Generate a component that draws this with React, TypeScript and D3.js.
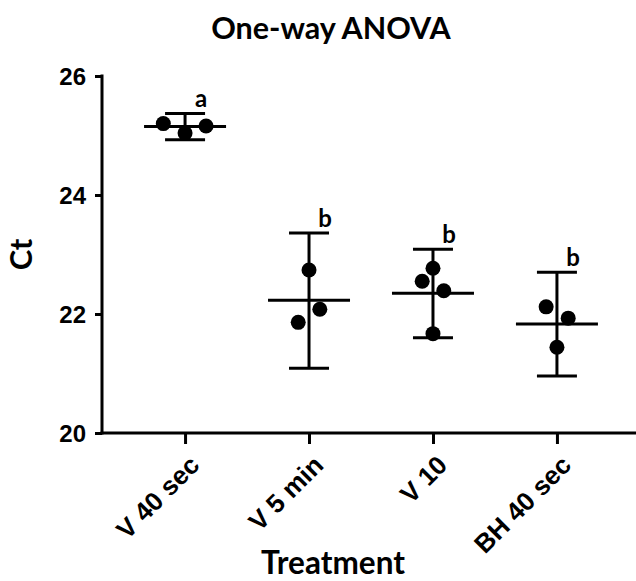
import * as d3 from "d3";
import { useEffect, useRef } from "react";

// Values (Ct per replicate, mean and 95% CI limits)
const treatments = ["V 40 sec", "V 5 min", "V 10", "BH 40 sec"];
const replicates = [
  [25.2, 25.04, 25.16],
  [22.74, 22.08, 21.86],
  [22.77, 22.55, 22.39, 21.67],
  [22.12, 21.93, 21.44],
];
const means = [25.15, 22.23, 22.35, 21.83];
const ciLow = [24.93, 21.09, 21.6, 20.96];
const ciHigh = [25.37, 23.36, 23.09, 22.7];
const letters = ["a", "b", "b", "b"];
const yTicks = [20, 22, 24, 26];
// horizontal scatter offsets (in dot diameters) so the points don't overlap
const jitter = [
  [-1.45, 0, 1.4],
  [0, 0.72, -0.72],
  [0, -0.72, 0.72, 0],
  [-0.72, 0.75, 0],
];

const W = 636;
const H = 581;

export default function App() {
  const ref = useRef<SVGSVGElement>(null);

  useEffect(() => {
    if (!ref.current) return;
    const svg = d3.select(ref.current);
    svg.selectAll("*").remove();

    const left = 102;
    const bottom = 433;
    const top = 76;

    const x = d3.scalePoint<string>().domain(treatments).range([left, 640]).padding(0.67);
    const y = d3.scaleLinear().domain([20, 26]).range([bottom, top]);

    const sans = "Lato, 'Open Sans', sans-serif";
    const arial = "'Liberation Sans', Arial, sans-serif";
    const r = 7.5;

    // title
    svg
      .append("text")
      .attr("x", 331)
      .attr("y", 39)
      .attr("text-anchor", "middle")
      .attr("font-family", sans)
      .attr("font-weight", 700)
      .attr("font-size", 30.5)
      .text("One-way ANOVA");

    // y axis
    const ya = svg
      .append("g")
      .attr("transform", `translate(${left},0)`)
      .call(d3.axisLeft(y).tickValues(yTicks).tickSize(7).tickPadding(9).tickFormat(d3.format("d")));
    ya.select("path.domain").remove();
    ya.selectAll("line").attr("stroke", "#000").attr("stroke-width", 3);
    ya.selectAll("text")
      .attr("font-family", arial)
      .attr("font-weight", 700)
      .attr("font-size", 24)
      .attr("fill", "#000")
      .attr("dy", "0.36em");
    svg
      .append("line")
      .attr("x1", left)
      .attr("x2", left)
      .attr("y1", top - 1.5)
      .attr("y2", bottom + 1.5)
      .attr("stroke", "#000")
      .attr("stroke-width", 3);

    // x axis
    const xa = svg
      .append("g")
      .attr("transform", `translate(0,${bottom})`)
      .call(d3.axisBottom(x).tickSize(11).tickFormat(() => ""));
    xa.select("path.domain").remove();
    xa.selectAll("line").attr("stroke", "#000").attr("stroke-width", 3);
    svg
      .append("line")
      .attr("x1", left - 1.5)
      .attr("x2", W)
      .attr("y1", bottom)
      .attr("y2", bottom)
      .attr("stroke", "#000")
      .attr("stroke-width", 3);

    svg
      .append("g")
      .selectAll("text")
      .data(treatments)
      .enter()
      .append("text")
      .attr("transform", (d) => `translate(${(x(d) as number) + 3},${bottom + 21}) rotate(-45)`)
      .attr("text-anchor", "end")
      .attr("dy", "0.7em")
      .attr("font-family", arial)
      .attr("font-weight", 700)
      .attr("font-size", 26)
      .text((d) => d);

    // axis titles
    svg
      .append("text")
      .attr("x", 333)
      .attr("y", 574)
      .attr("text-anchor", "middle")
      .attr("font-family", sans)
      .attr("font-weight", 700)
      .attr("font-size", 31.5)
      .text("Treatment");
    svg
      .append("text")
      .attr("transform", `translate(32,${(top + bottom) / 2}) rotate(-90)`)
      .attr("text-anchor", "middle")
      .attr("font-family", sans)
      .attr("font-weight", 700)
      .attr("font-size", 31)
      .text("Ct");

    const g = svg.append("g");
    treatments.forEach((t, i) => {
      const cx = x(t) as number;
      // dots first, bars drawn over them like Prism does
      g.selectAll(`.dot${i}`)
        .data(replicates[i])
        .enter()
        .append("circle")
        .attr("cx", (_, j) => cx + jitter[i][j] * 2 * r)
        .attr("cy", (v) => y(v))
        .attr("r", r)
        .attr("fill", "#000");

      const line = (x1: number, x2: number, y1: number, y2: number) =>
        g
          .append("line")
          .attr("x1", x1)
          .attr("x2", x2)
          .attr("y1", y1)
          .attr("y2", y2)
          .attr("stroke", "#000")
          .attr("stroke-width", 3);
      line(cx, cx, y(ciHigh[i]), y(ciLow[i]));
      line(cx - 20, cx + 20, y(ciHigh[i]), y(ciHigh[i]));
      line(cx - 20, cx + 20, y(ciLow[i]), y(ciLow[i]));
      line(cx - 41, cx + 41, y(means[i]), y(means[i]));

      g.append("text")
        .attr("x", cx + 16)
        .attr("y", y(ciHigh[i]) - 6)
        .attr("text-anchor", "middle")
        .attr("font-family", sans)
        .attr("font-weight", 700)
        .attr("font-size", 24)
        .text(letters[i]);
    });
  }, []);

  return (
    <svg
      ref={ref}
      width={W}
      height={H}
      style={{ position: "absolute", left: 0, top: 0, background: "#fff" }}
    />
  );
}
